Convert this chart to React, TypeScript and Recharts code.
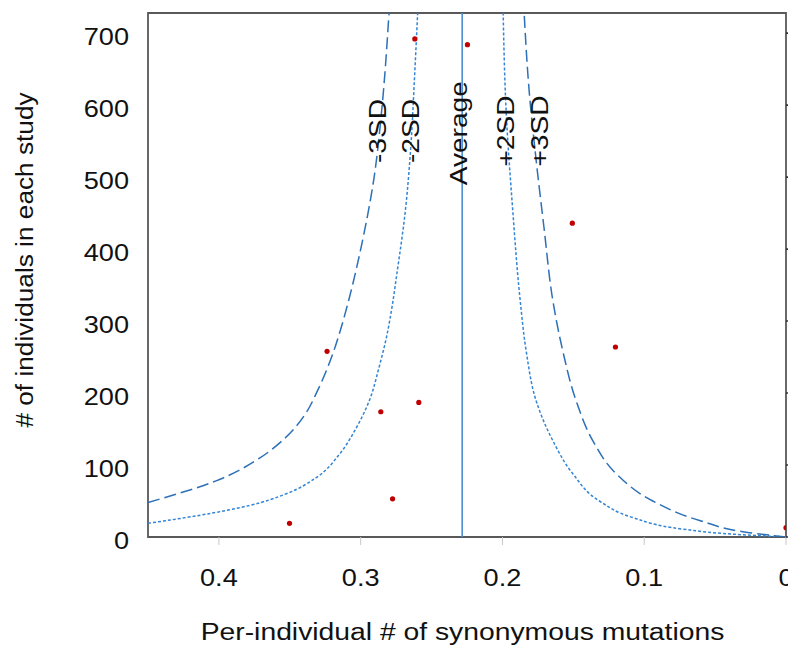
import { ComposedChart, Line, ReferenceArea, ReferenceLine, Scatter, XAxis, YAxis } from "recharts";

// studies: per-individual rate vs. sample size
const STUDY_X = [0.2618, 0.2247, 0.1507, 0.1203, 0.0, 0.3237, 0.2858, 0.259, 0.2775, 0.3502];
const STUDY_N = [692, 684, 436, 264, 13, 258, 174, 187, 53, 19];

const MEAN = 0.2284;

// funnel limits (n -> x)
const M3_N = [48, 78, 110, 138, 171, 203, 250, 296, 330, 407, 500, 592, 728];
const M3_X = [0.45, 0.402, 0.371, 0.353, 0.339, 0.3305, 0.3205, 0.313, 0.3083, 0.2992, 0.2905, 0.2852, 0.28];
const M2_N = [19, 30, 44, 60, 83, 115, 152, 189, 236, 273, 328, 361, 453, 546, 639, 728];
const M2_X = [0.45, 0.414, 0.378, 0.3525, 0.331, 0.315, 0.303, 0.294, 0.287, 0.2823, 0.2772, 0.2748, 0.2685, 0.2645, 0.262, 0.2598];
const P2_N = [0, 4, 11, 27, 50, 88, 134, 189, 259, 329, 453, 592, 728];
const P2_X = [0, 0.038, 0.073, 0.108, 0.1316, 0.1504, 0.1645, 0.1762, 0.1833, 0.1875, 0.1927, 0.1974, 0.1995];
const P3_N = [0, 6, 23, 50, 88, 134, 189, 259, 329, 430, 523, 616, 728];
const P3_X = [0, 0.026, 0.061, 0.094, 0.1198, 0.1363, 0.148, 0.1575, 0.1645, 0.1707, 0.1762, 0.181, 0.1847];

const LABEL_TEXT = ["-3SD", "-2SD", "Average", "+2SD", "+3SD"];
const LABEL_X = [0.282, 0.2585, 0.2252, 0.1915, 0.1681];
const LABEL_N = [564, 564, 561, 564, 564];

const X_TICKS = [0.4, 0.3, 0.2, 0.1, 0];
const Y_TICKS = [0, 100, 200, 300, 400, 500, 600, 700];

const FONT = "'Liberation Sans', Arial, Helvetica, sans-serif";
const measureCtx = typeof document !== "undefined" ? document.createElement("canvas").getContext("2d") : null;

const zip = (xs: number[], ns: number[]) => xs.map((x, i) => ({ x, y: ns[i] }));
const studies = zip(STUDY_X, STUDY_N);
const minus3 = zip(M3_X, M3_N);
const minus2 = zip(M2_X, M2_N);
const plus2 = zip(P2_X, P2_N);
const plus3 = zip(P3_X, P3_N);
const labels = LABEL_TEXT.map((text, i) => ({ text, x: LABEL_X[i], y: LABEL_N[i] }));

// the original font is noticeably wider than Arial, so stretch glyphs a bit
function WideText({ text, size, stretch = 1.18, ...rest }: any) {
  let len: number | undefined;
  if (measureCtx) {
    measureCtx.font = `${size}px ${FONT}`;
    len = measureCtx.measureText(text).width * stretch;
  }
  return (
    <text fontFamily={FONT} fontSize={size} fill="#111" textLength={len} lengthAdjust="spacingAndGlyphs" {...rest}>
      {text}
    </text>
  );
}

const XTick = ({ x, y, payload }: any) => (
  <WideText text={String(payload.value)} size={23} x={x} y={y + 38.5} textAnchor="middle" />
);

const YTick = ({ y, payload }: any) => (
  <WideText text={String(payload.value)} size={23} x={121} y={y + 11.5} textAnchor="end" />
);

const NoTick = () => <g />;

const XTitle = ({ viewBox }: any) => (
  <WideText
    text="Per-individual # of synonymous mutations"
    size={23}
    stretch={1.23}
    x={viewBox.x + viewBox.width / 2 - 4.5}
    y={viewBox.y + 103}
    textAnchor="middle"
  />
);

const YTitle = ({ viewBox }: any) => {
  const cx = 25;
  const cy = viewBox.y + viewBox.height / 2 - 15;
  return (
    <WideText
      text="# of individuals in each study"
      size={23}
      stretch={1.14}
      x={cx}
      y={cy}
      textAnchor="middle"
      transform={`rotate(-90 ${cx} ${cy})`}
    />
  );
};

const Dot = ({ cx, cy }: any) => <circle cx={cx} cy={cy} r={2.6} fill="#c00000" />;

const RotLabel = ({ cx, cy, payload }: any) => (
  <WideText
    text={payload.text}
    size={24}
    stretch={1.17}
    x={cx}
    y={cy}
    textAnchor="middle"
    transform={`rotate(-90 ${cx} ${cy})`}
  />
);

const DASHED = "#2c70b8";
const DOTTED = "#3385d6";

export default function App() {
  return (
    <ComposedChart width={788} height={638} margin={{ top: 5, right: 0, bottom: 0, left: 0 }}>
      <XAxis
        type="number"
        dataKey="x"
        domain={[0, 0.45]}
        reversed
        allowDataOverflow
        ticks={X_TICKS}
        tick={<XTick />}
        tickSize={8}
        tickLine={{ stroke: "#c8c8c8" }}
        axisLine={false}
        height={109}
        label={<XTitle />}
      />
      <YAxis
        type="number"
        dataKey="y"
        domain={[0, 728]}
        allowDataOverflow
        ticks={Y_TICKS}
        tick={<YTick />}
        tickLine={false}
        axisLine={false}
        width={140}
        label={<YTitle />}
      />
      <YAxis
        yAxisId="right"
        orientation="right"
        type="number"
        domain={[0, 728]}
        allowDataOverflow
        ticks={Y_TICKS}
        tick={<NoTick />}
        tickSize={8}
        tickLine={{ stroke: "#333", strokeWidth: 1.6 }}
        axisLine={false}
        width={10}
      />
      <ReferenceArea x1={0} x2={0.45} y1={0} y2={728} fill="none" stroke="#595959" strokeWidth={1.8} />
      <ReferenceLine x={MEAN} stroke="#4a90d0" strokeWidth={1.6} />
      <Line data={minus3} dataKey="y" type="monotoneY" stroke={DASHED} strokeWidth={1.5} strokeDasharray="12 5" dot={false} activeDot={false} isAnimationActive={false} />
      <Line data={minus2} dataKey="y" type="monotoneY" stroke={DOTTED} strokeWidth={1.5} strokeDasharray="3 2" dot={false} activeDot={false} isAnimationActive={false} />
      <Line data={plus2} dataKey="y" type="monotoneY" stroke={DOTTED} strokeWidth={1.5} strokeDasharray="3 2" dot={false} activeDot={false} isAnimationActive={false} />
      <Line data={plus3} dataKey="y" type="monotoneY" stroke={DASHED} strokeWidth={1.5} strokeDasharray="12 5" dot={false} activeDot={false} isAnimationActive={false} />
      <Scatter data={labels} dataKey="y" shape={<RotLabel />} isAnimationActive={false} />
      <Scatter data={studies} dataKey="y" shape={<Dot />} isAnimationActive={false} />
    </ComposedChart>
  );
}
